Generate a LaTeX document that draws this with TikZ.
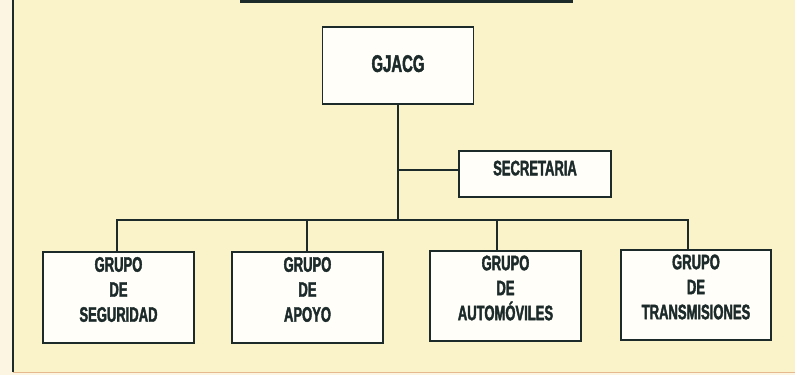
\documentclass[tikz,border=0pt]{standalone}
\usepackage{fontspec}
\newfontfamily\condfont[FakeStretch=0.62,BoldFeatures={FakeBold=1.8}]{Liberation Sans}
\definecolor{bgyellow}{HTML}{FAF2C8}
\definecolor{outcream}{HTML}{FBF5E2}
\definecolor{ink}{HTML}{1C2A2A}
\definecolor{boxfill}{HTML}{FFFEF8}
\definecolor{edgeorange}{HTML}{E6B98E}
\tikzset{
  orgbox/.style={draw=ink, line width=1.8pt, fill=boxfill, inner sep=0pt},
  orgtext/.style={font=\condfont\bfseries\fontsize{21}{25}\selectfont, text=ink, align=center, inner sep=0pt},
  link/.style={draw=ink, line width=1.8pt}
}
\begin{document}
\begin{tikzpicture}[x=1pt,y=-1pt]
\useasboundingbox (0,0) rectangle (795,375);
% background
\fill[outcream] (0,0) rectangle (795,375);
\fill[bgyellow] (13,0) rectangle (795,372);
\draw[edgeorange, line width=1.5pt] (13,372.5) -- (795,372.5);
\draw[ink, line width=2pt] (13,0) -- (13,372);
% title underline (cut off)
\draw[ink, line width=3pt] (240,1.5) -- (573,1.5);

% boxes
\node[orgbox, minimum width=151pt, minimum height=77pt, text depth=4pt,
      font=\condfont\bfseries\fontsize{24}{28}\selectfont, text=ink] (top) at (398,65.5) {GJACG};
\node[orgbox, minimum width=152pt, minimum height=46pt, text depth=12pt,
      font=\condfont\bfseries\fontsize{21}{25}\selectfont, text=ink] (sec) at (535,174) {SECRETARIA};

\node[orgbox, minimum width=151pt, minimum height=91pt] (g1) at (118.5,297.5) {};
\node[orgbox, minimum width=151pt, minimum height=91pt] (g2) at (307.5,297.5) {};
\node[orgbox, minimum width=151pt, minimum height=90pt] (g3) at (505.5,296) {};
\node[orgbox, minimum width=150pt, minimum height=90pt] (g4) at (696,295) {};

\node[orgtext, yshift=8pt] (t1) at (g1.center) {GRUPO\\DE\\SEGURIDAD};
\node[orgtext, yshift=8pt] (t2) at (g2.center) {GRUPO\\DE\\APOYO};
\node[orgtext, yshift=8pt] (t3) at (g3.center) {GRUPO\\DE\\AUTOMÓVILES};
\node[orgtext, yshift=8pt] (t4) at (g4.center) {GRUPO\\DE\\TRANSMISIONES};

% connectors
\coordinate (bus) at (398,220);
\coordinate (secj) at (398,170);
\draw[link] (top.south) -- (bus);
\draw[link] (secj) -- (secj -| sec.west);
\draw[link] (g1.north -| 117,0) |- (bus) -| (g4.north -| 688,0);
\draw[link] (g2.north -| 307,0) -- (307,220);
\draw[link] (g3.north -| 497,0) -- (497,220);
\end{tikzpicture}
\end{document}
